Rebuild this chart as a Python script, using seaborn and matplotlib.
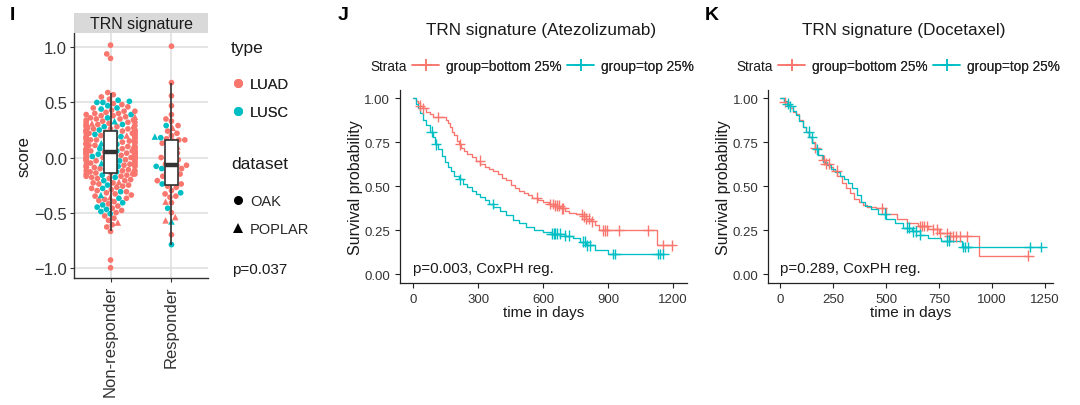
import numpy as np
import pandas as pd
import matplotlib
matplotlib.use("Agg")
import matplotlib.pyplot as plt
import seaborn as sns
from matplotlib.lines import Line2D
from matplotlib.markers import MarkerStyle

# ---------------- Panel I data ----------------
categories = ["Non-responder", "Responder"]
types = ["LUAD", "LUSC"]
datasets = ["OAK", "POPLAR"]
type_colors = ["#F8766D", "#00BFC4"]

nr_luad_oak = [-1.00, -0.93, -0.67, -0.63, -0.61, -0.57, -0.55, -0.53, -0.50, -0.48, -0.46, -0.44, -0.42,
               -0.40, -0.39, -0.38, -0.37, -0.35, -0.34, -0.33, -0.32, -0.31, -0.30, -0.29, -0.28, -0.27,
               -0.26, -0.25, -0.24, -0.23, -0.23, -0.21, -0.20, -0.19, -0.19, -0.18, -0.17, -0.17, -0.16,
               -0.15, -0.15, -0.15, -0.14,
               -0.14, -0.13, -0.12, -0.12, -0.12, -0.11, -0.10, -0.09, -0.09, -0.08, -0.07, -0.07, -0.07,
               -0.06, -0.06, -0.05, -0.05, -0.04, -0.04, -0.03, -0.03, -0.02, -0.02, -0.02, -0.01, -0.01,
               0.00, 0.00, 0.00, 0.01, 0.01, 0.02, 0.02, 0.02, 0.03, 0.03, 0.03, 0.04, 0.04, 0.04, 0.04,
               0.05, 0.05, 0.05, 0.05, 0.05,
               0.05, 0.06, 0.06, 0.07, 0.07, 0.07, 0.08, 0.08, 0.09, 0.09, 0.10, 0.10, 0.11, 0.11, 0.12,
               0.12, 0.13, 0.13, 0.14, 0.14, 0.15, 0.15, 0.16, 0.16, 0.16, 0.17, 0.17, 0.18, 0.18, 0.18,
               0.19, 0.19, 0.20, 0.20, 0.21, 0.21, 0.22, 0.22, 0.22, 0.23, 0.23, 0.24, 0.24, 0.24, 0.24, 0.24,
               0.25, 0.25, 0.26, 0.26, 0.26, 0.27, 0.27, 0.28, 0.28, 0.29, 0.29, 0.30, 0.30, 0.31, 0.32,
               0.32, 0.32, 0.33, 0.34, 0.34, 0.35, 0.35, 0.36, 0.37, 0.38, 0.38, 0.39, 0.40, 0.40, 0.41,
               0.42, 0.42, 0.43, 0.45, 0.46, 0.48, 0.49, 0.53, 0.55, 0.57, 0.59, 0.90, 0.94, 1.02]
nr_luad_poplar = [-0.59, -0.36, -0.22, -0.10, -0.06, 0.02, 0.11, 0.15, 0.20, 0.27, 0.31, 0.37]
nr_lusc_oak = [-0.51, -0.49, -0.47, -0.45, -0.43, -0.41, -0.37, -0.31, -0.28, -0.25, -0.21, -0.18, -0.16,
               -0.13, -0.11, -0.09, -0.08, -0.03, -0.01, 0.01, 0.01, 0.03, 0.04,
               0.06, 0.08, 0.09, 0.10, 0.12, 0.14, 0.17, 0.19, 0.21, 0.23,
               0.25, 0.28, 0.30, 0.36, 0.39, 0.44, 0.45, 0.47, 0.50, 0.50, 0.51, 0.52]
nr_lusc_poplar = [-0.34, -0.05, 0.13, 0.33]

r_luad_oak = [1.01, 0.68, 0.56, 0.47, 0.39, 0.35, 0.33, 0.29, 0.24, 0.22, 0.20, 0.17,
              -0.24, -0.23, -0.21, -0.19, -0.17, -0.15, -0.13, -0.12, -0.10, -0.07,
              -0.07, -0.06, -0.04, -0.02, 0.00, 0.02, 0.04, 0.05, 0.08, 0.13, 0.15, 0.16, 0.16,
              -0.26, -0.27, -0.30, -0.33, -0.35, -0.36, -0.41, -0.50, -0.70]
r_luad_poplar = [0.27, -0.01, 0.10, -0.40, -0.54, -0.57]
r_lusc_oak = [0.29, 0.18, -0.24, -0.20, -0.16, -0.10, -0.08, 0.12, -0.32, -0.46, -0.79]
r_lusc_poplar = [0.19, -0.09, -0.58]

score_ticks = [-1.0, -0.5, 0.0, 0.5, 1.0]
p_value_I = "p=0.037"

# ---------------- Panels J/K data (Kaplan-Meier step curves) ----------------
strata = ["group=bottom 25%", "group=top 25%"]

atezo_bottom_t = [0, 10, 20, 30, 45, 60, 75, 90, 150, 160, 170, 180, 190, 200, 210, 220, 235, 250, 270,
                  290, 310, 330, 350, 370, 390, 410, 430, 450, 470, 490, 510, 530, 550, 575, 600, 625,
                  650, 680, 700, 720, 750, 780, 800, 820, 840, 860, 1125]
atezo_bottom_s = [1.0, 0.985, 0.975, 0.96, 0.945, 0.925, 0.91, 0.895, 0.88, 0.86, 0.84, 0.81, 0.79, 0.76,
                  0.74, 0.72, 0.70, 0.685, 0.665, 0.645, 0.625, 0.61, 0.60, 0.585, 0.57, 0.55, 0.535, 0.51,
                  0.49, 0.475, 0.46, 0.45, 0.435, 0.42, 0.41, 0.40, 0.39, 0.375, 0.36, 0.35, 0.34, 0.33,
                  0.315, 0.30, 0.28, 0.25, 0.165]
atezo_bottom_cens = [30, 45, 116, 216, 308, 571, 633, 645, 655, 665, 675, 685, 694, 779, 790, 800, 812,
                     825, 877, 886, 896, 951, 1086, 1153, 1195]

atezo_top_t = [0, 10, 20, 30, 45, 60, 75, 90, 100, 115, 130, 145, 160, 175, 190, 210, 230, 250, 270, 290,
               310, 330, 350, 370, 400, 430, 460, 490, 520, 560, 600, 640, 700, 740, 770, 800, 840, 900]
atezo_top_s = [1.0, 0.97, 0.945, 0.915, 0.88, 0.85, 0.81, 0.78, 0.74, 0.71, 0.675, 0.64, 0.61, 0.585,
               0.56, 0.54, 0.515, 0.495, 0.475, 0.455, 0.44, 0.42, 0.40, 0.385, 0.36, 0.335, 0.31, 0.29,
               0.27, 0.25, 0.24, 0.23, 0.22, 0.205, 0.185, 0.165, 0.14, 0.115]
atezo_top_cens = [85, 105, 216, 367, 640, 648, 655, 665, 680, 700, 720, 785, 795, 805, 817, 923, 933,
                  1130, 1140, 1155]

doce_bottom_t = [0, 15, 30, 45, 60, 75, 90, 105, 120, 135, 150, 165, 180, 195, 210, 230, 250, 270, 290,
                 310, 330, 350, 370, 390, 410, 450, 500, 550, 600, 650, 700, 750, 800, 940]
doce_bottom_s = [1.0, 0.98, 0.965, 0.945, 0.925, 0.91, 0.88, 0.84, 0.81, 0.78, 0.75, 0.72, 0.68, 0.65,
                 0.63, 0.61, 0.59, 0.56, 0.52, 0.49, 0.46, 0.43, 0.41, 0.395, 0.385, 0.375, 0.345, 0.315,
                 0.29, 0.275, 0.255, 0.235, 0.215, 0.105]
doce_bottom_cens = [20, 165, 204, 215, 228, 267, 480, 660, 670, 680, 692, 723, 740, 755, 786, 800, 815,
                    830, 850, 880, 1171]

doce_top_t = [0, 15, 30, 45, 60, 75, 90, 105, 120, 135, 150, 165, 180, 200, 220, 240, 260, 280, 300, 320,
              340, 360, 380, 400, 430, 460, 500, 540, 580, 620, 660, 700, 760, 860]
doce_top_s = [1.0, 0.985, 0.97, 0.955, 0.93, 0.905, 0.87, 0.84, 0.81, 0.78, 0.745, 0.71, 0.68, 0.64,
              0.62, 0.60, 0.58, 0.56, 0.54, 0.52, 0.49, 0.45, 0.41, 0.39, 0.37, 0.345, 0.315, 0.29,
              0.265, 0.245, 0.225, 0.205, 0.19, 0.155]
doce_top_cens = [35, 47, 134, 149, 173, 495, 597, 610, 625, 640, 660, 786, 795, 865, 875, 885, 1179, 1234]

atezo_xticks = [0, 300, 600, 900, 1200]
doce_xticks = [0, 250, 500, 750, 1000, 1250]
surv_ticks = [0.0, 0.25, 0.50, 0.75, 1.0]
p_value_J = "p=0.003, CoxPH reg."
p_value_K = "p=0.289, CoxPH reg."

# ---------------- style ----------------
sns.set_theme(style="white")
plt.rcParams["font.family"] = ["Liberation Sans", "DejaVu Sans"]
W, H = 1080, 406
fig = plt.figure(figsize=(W / 100, H / 100), dpi=100)


def fx(px):
    return px / W


def fy(py):
    return 1 - py / H


# ---------------- Panel I ----------------
rows = []
for resp, typ, ds, vals in [
    ("Non-responder", "LUSC", "OAK", nr_lusc_oak),
    ("Non-responder", "LUSC", "POPLAR", nr_lusc_poplar),
    ("Non-responder", "LUAD", "OAK", nr_luad_oak),
    ("Non-responder", "LUAD", "POPLAR", nr_luad_poplar),
    ("Responder", "LUSC", "OAK", r_lusc_oak),
    ("Responder", "LUSC", "POPLAR", r_lusc_poplar),
    ("Responder", "LUAD", "OAK", r_luad_oak),
    ("Responder", "LUAD", "POPLAR", r_luad_poplar),
]:
    for v in vals:
        rows.append((resp, typ, ds, v))
dfI = pd.DataFrame(rows, columns=["response", "type", "dataset", "score"])
dfI = dfI.sort_values(["response", "score"], kind="mergesort").reset_index(drop=True)

axI = fig.add_axes([fx(74), fy(279), fx(134), 245 / H])
palI = dict(zip(types, type_colors))
sns.swarmplot(data=dfI, x="response", y="score", hue="type", order=categories, hue_order=types,
              palette=palI, size=4.1, linewidth=0, legend=False, warn_thresh=1.0, ax=axI)

circ = MarkerStyle("o")
circ_path = circ.get_path().transformed(circ.get_transform())
tri = MarkerStyle("^")
tri_path = tri.get_path().transformed(tri.get_transform().scale(1.15))
for coll in axI.collections:
    offs = coll.get_offsets()
    if len(offs) == 0:
        continue
    cat = int(round(float(np.mean(offs[:, 0]))))
    sub = dfI[dfI["response"] == categories[cat]]
    coll.set_paths([tri_path if d == "POPLAR" else circ_path for d in sub["dataset"]])

sns.boxplot(data=dfI, x="response", y="score", order=categories, width=0.2, color="white",
            linecolor="#333333", linewidth=1.2, showfliers=False, showcaps=False,
            medianprops=dict(linewidth=3.2, color="#333333"), ax=axI)
for p in axI.patches:
    p.set_zorder(3)
for ln in axI.lines:
    ln.set_zorder(4)

axI.set_xlim(-0.6, 1.6)
axI.set_ylim(-1.093, 1.13)
axI.set_yticks(score_ticks)
axI.set_yticklabels([f"{v:.1f}".replace("-", "\u2212") for v in score_ticks])
axI.grid(True, color="#DEDEDE", lw=1.1)
axI.set_axisbelow(True)
for side in ["top", "right"]:
    axI.spines[side].set_visible(False)
for side in ["left", "bottom"]:
    axI.spines[side].set_color("#333333")
    axI.spines[side].set_linewidth(1.0)
axI.tick_params(axis="both", which="both", length=3, width=0.8, color="#333333",
                labelsize=12, labelcolor="#333333", left=True, bottom=True, pad=2)
axI.tick_params(axis="x", labelrotation=90)
axI.set_xlabel("")
axI.set_ylabel("score", fontsize=12, color="#1a1a1a", labelpad=2)

sax = fig.add_axes([fx(74), fy(34), fx(134), 20 / H])
sax.set_facecolor("#D9D9D9")
sax.set_xticks([])
sax.set_yticks([])
for s in sax.spines.values():
    s.set_visible(False)
sax.text(0.5, 0.48, "TRN signature", ha="center", va="center", fontsize=11.5, color="#1a1a1a",
         transform=sax.transAxes)

type_handles = [Line2D([], [], ls="", marker="o", markersize=6.5, color=c, markeredgewidth=0)
                for c in type_colors]
ds_handles = [Line2D([], [], ls="", marker=m, markersize=ms, color="black", markeredgewidth=0)
              for m, ms in [("o", 6.5), ("^", 7.5)]]
legs = []
for handles, labels, title, ty, cy in [(type_handles, types, "type", 48, 99),
                                        (ds_handles, datasets, "dataset", 165, 216)]:
    fig.text(fx(231), fy(ty), title, fontsize=12.5, color="#1a1a1a", ha="left", va="center")
    lg = fig.legend(handles, labels, loc="center left", bbox_to_anchor=(fx(229), fy(cy)),
                    frameon=False, fontsize=10.5, labelspacing=0.95, handletextpad=0.25,
                    handlelength=1.2, borderpad=0, borderaxespad=0)
    legs.append(lg)
for lg in legs[:-1]:
    fig.add_artist(lg)
fig.text(fx(232), fy(270), p_value_I, fontsize=11, color="#1a1a1a", va="center", ha="left")

# ---------------- Panels J and K ----------------
km_pal = {strata[0]: "#F8766D", strata[1]: "#00BFC4"}


def step_frame(t, s, cens, label):
    t_full = list(t) + [max(cens)]
    s_full = list(s) + [s[-1]]
    return pd.DataFrame({"time": t_full, "surv": s_full, "group": label})


def cens_frame(t, s, cens, label):
    idx = np.searchsorted(np.asarray(t), np.asarray(cens), side="right") - 1
    return pd.DataFrame({"time": cens, "surv": np.asarray(s)[idx], "group": label})


def km_panel(ax, bottom, top, xticks, xlim, ptxt):
    lines = pd.concat([step_frame(*bottom, strata[0]), step_frame(*top, strata[1])], ignore_index=True)
    cens = pd.concat([cens_frame(*bottom, strata[0]), cens_frame(*top, strata[1])], ignore_index=True)
    sns.lineplot(data=lines, x="time", y="surv", hue="group", palette=km_pal, estimator=None,
                 sort=False, drawstyle="steps-post", lw=0.95, legend=False, ax=ax)
    sns.scatterplot(data=cens, x="time", y="surv", hue="group", palette=km_pal, marker="+", s=60,
                    linewidth=1.0, legend=False, ax=ax, zorder=3)
    ax.set_xlim(*xlim)
    ax.set_ylim(-0.05, 1.05)
    ax.set_xticks(xticks)
    ax.set_yticks(surv_ticks)
    ax.set_yticklabels([f"{v:.2f}" for v in surv_ticks])
    for side in ["top", "right"]:
        ax.spines[side].set_visible(False)
    for side in ["left", "bottom"]:
        ax.spines[side].set_color("#222222")
        ax.spines[side].set_linewidth(0.9)
    ax.tick_params(axis="both", length=3.5, width=0.8, color="#222222", labelsize=9.5,
                   labelcolor="#333333", left=True, bottom=True)
    ax.set_xlabel("time in days", fontsize=11, color="#1a1a1a", labelpad=0.5)
    ax.set_ylabel("Survival probability", fontsize=11.5, color="#1a1a1a", labelpad=1)
    ax.text(0, 0.035, ptxt, fontsize=10.8, color="#1a1a1a", ha="left", va="center")


axJ = fig.add_axes([fx(400), fy(284), fx(286.7), 193.3 / H])
km_panel(axJ, (atezo_bottom_t, atezo_bottom_s, atezo_bottom_cens),
         (atezo_top_t, atezo_top_s, atezo_top_cens), atezo_xticks, (-62, 1264), p_value_J)
axK = fig.add_axes([fx(768.3), fy(284), fx(285), 193.3 / H])
km_panel(axK, (doce_bottom_t, doce_bottom_s, doce_bottom_cens),
         (doce_top_t, doce_top_s, doce_top_cens), doce_xticks, (-57, 1290), p_value_K)

km_handles = [Line2D([], [], color=km_pal[g], lw=1.1, marker="+", markersize=9, markeredgewidth=1.1)
              for g in strata]
for strata_x, leg_x, title, tx in [(370, 412, "TRN signature (Atezolizumab)", 541),
                                   (736, 778, "TRN signature (Docetaxel)", 904)]:
    fig.text(fx(tx), fy(30), title, fontsize=12.3, ha="center", va="center", color="#1a1a1a")
    fig.text(fx(strata_x), fy(67), "Strata", fontsize=9.8, ha="left", va="center", color="#1a1a1a")
    lg = fig.legend(km_handles, strata, loc="center left", bbox_to_anchor=(fx(leg_x), fy(67)),
                    ncol=2, frameon=False, fontsize=9.8, handlelength=2.0, handletextpad=0.5,
                    columnspacing=0.4, borderpad=0, borderaxespad=0)
    fig.add_artist(lg)

for letter, x in [("I", 10), ("J", 338), ("K", 705)]:
    fig.text(fx(x), fy(15), letter, fontsize=14, fontweight="bold", ha="left", va="center",
             color="black")

fig.savefig("out.png", dpi=100)
